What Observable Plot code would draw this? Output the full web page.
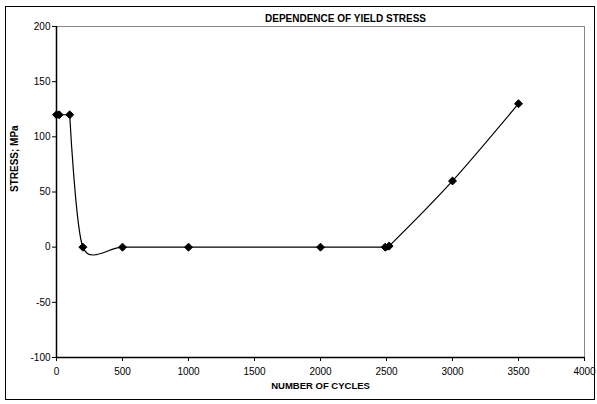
<!DOCTYPE html>
<html>
<head>
<meta charset="utf-8">
<script src="https://cdn.jsdelivr.net/npm/d3@7"></script>
<script src="https://cdn.jsdelivr.net/npm/@observablehq/plot@0.6"></script>
<style>
  html, body { margin: 0; padding: 0; background: #fff; }
  #wrap { position: relative; width: 597px; height: 404px; }
  #frame { position: absolute; left: 5px; top: 6px; width: 588px; height: 392px; border: 1.5px solid #000; pointer-events: none; }
  svg { font-family: "Liberation Sans Narrow", "Liberation Sans", Arial, sans-serif; }
</style>
</head>
<body>
<div id="wrap"><div id="frame"></div></div>
<script>
const title = "DEPENDENCE OF YIELD STRESS";
const xLabel = "NUMBER OF CYCLES";
const yLabel = "STRESS; MPa";
const cycles = [0, 20, 100, 200, 500, 1000, 2000, 2490, 2520, 3000, 3500];
const stress = [120, 120, 120, 0, 0, 0, 0, 0, 1, 60, 130];
const xTicks = [0, 500, 1000, 1500, 2000, 2500, 3000, 3500, 4000];
const yTicks = [-100, -50, 0, 50, 100, 150, 200];

const data = cycles.map((c, i) => ({x: c, y: stress[i]}));
const plateau = data.filter(d => d.x <= 100);
const rest = data.filter(d => d.x >= 100);

const chart = Plot.plot({
  width: 597,
  height: 404,
  marginLeft: 56,
  marginTop: 26,
  marginRight: 13,
  marginBottom: 47,
  style: {fontSize: "10px", color: "#000", background: "transparent", overflow: "visible"},
  x: {domain: [0, 4000], ticks: xTicks, label: null},
  y: {domain: [-100, 200], ticks: yTicks, label: null},
  marks: [
    Plot.ruleY([200], {stroke: "#888", strokeWidth: 1}),
    Plot.ruleX([4000], {stroke: "#888", strokeWidth: 1}),
    Plot.ruleX([0], {stroke: "#000", strokeWidth: 1.5}),
    Plot.ruleY([-100], {stroke: "#000", strokeWidth: 1.5}),
    Plot.axisX({ticks: xTicks, tickFormat: d => String(d), tickSize: 4, tickPadding: 6, stroke: "#000", fontSize: 10, label: null}),
    Plot.axisY({ticks: yTicks, tickFormat: d => String(d), tickSize: 4, tickPadding: 2, stroke: "#000", fontSize: 10, label: null}),
    Plot.line(plateau, {x: "x", y: "y", stroke: "#000", strokeWidth: 1.2}),
    Plot.line(rest, {x: "x", y: "y", curve: "cardinal", tension: 0.2, stroke: "#000", strokeWidth: 1.2}),
    Plot.dot(data, {x: "x", y: "y", symbol: "diamond2", r: 3.6, fill: "#000", stroke: "#000", strokeWidth: 1}),
    Plot.text([title], {frameAnchor: "top", dy: -12, dx: 25, text: d => d, fontSize: 10, fontWeight: "bold", fill: "#000"}),
    Plot.text([xLabel], {frameAnchor: "bottom", dy: 31, text: d => d, fontSize: 9.5, fontWeight: "bold", fill: "#000"}),
    Plot.text([yLabel], {frameAnchor: "left", dx: -42, rotate: -90, text: d => d, fontSize: 10, fontWeight: "bold", fill: "#000"})
  ]
});
document.getElementById("wrap").prepend(chart);
</script>
</body>
</html>
